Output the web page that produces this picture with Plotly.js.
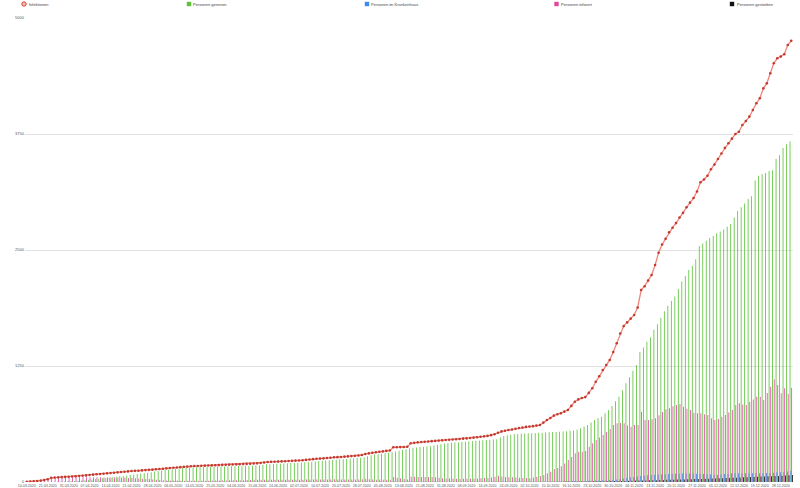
<!DOCTYPE html>
<html>
<head>
<meta charset="utf-8">
<script src="https://cdn.plot.ly/plotly-3.0.1.min.js"></script>
<style>html,body{margin:0;padding:0;background:#fff;}#chart{width:800px;height:488px;}</style>
</head>
<body>
<div id="chart"></div>
<script>
// ---- categories (dates of the reports) ----
const dates = [
"10.03.2020","12.03.2020","14.03.2020","16.03.2020","18.03.2020","20.03.2020",
"21.03.2020","23.03.2020","24.03.2020","26.03.2020","27.03.2020","30.03.2020",
"31.03.2020","01.04.2020","02.04.2020","03.04.2020","05.04.2020","06.04.2020",
"07.04.2020","08.04.2020","09.04.2020","10.04.2020","12.04.2020","13.04.2020",
"14.04.2020","15.04.2020","16.04.2020","17.04.2020","19.04.2020","20.04.2020",
"21.04.2020","22.04.2020","23.04.2020","24.04.2020","26.04.2020","27.04.2020",
"28.04.2020","29.04.2020","30.04.2020","02.05.2020","04.05.2020","05.05.2020",
"06.05.2020","07.05.2020","08.05.2020","11.05.2020","12.05.2020","13.05.2020",
"14.05.2020","15.05.2020","18.05.2020","19.05.2020","20.05.2020","22.05.2020",
"25.05.2020","26.05.2020","27.05.2020","28.05.2020","29.05.2020","02.06.2020",
"04.06.2020","05.06.2020","08.06.2020","09.06.2020","10.06.2020","12.06.2020",
"15.06.2020","16.06.2020","17.06.2020","18.06.2020","19.06.2020","22.06.2020",
"24.06.2020","25.06.2020","26.06.2020","29.06.2020","30.06.2020","01.07.2020",
"02.07.2020","03.07.2020","06.07.2020","07.07.2020","08.07.2020","09.07.2020",
"10.07.2020","13.07.2020","14.07.2020","15.07.2020","16.07.2020","17.07.2020",
"20.07.2020","21.07.2020","22.07.2020","23.07.2020","24.07.2020","27.07.2020",
"28.07.2020","29.07.2020","30.07.2020","31.07.2020","03.08.2020","04.08.2020",
"05.08.2020","06.08.2020","07.08.2020","10.08.2020","11.08.2020","12.08.2020",
"13.08.2020","14.08.2020","17.08.2020","18.08.2020","19.08.2020","20.08.2020",
"21.08.2020","24.08.2020","25.08.2020","26.08.2020","27.08.2020","28.08.2020",
"31.08.2020","01.09.2020","02.09.2020","03.09.2020","04.09.2020","07.09.2020",
"08.09.2020","09.09.2020","10.09.2020","11.09.2020","14.09.2020","15.09.2020",
"16.09.2020","17.09.2020","18.09.2020","21.09.2020","22.09.2020","23.09.2020",
"24.09.2020","25.09.2020","28.09.2020","29.09.2020","30.09.2020","01.10.2020",
"02.10.2020","05.10.2020","06.10.2020","07.10.2020","08.10.2020","09.10.2020",
"10.10.2020","11.10.2020","12.10.2020","13.10.2020","14.10.2020","15.10.2020",
"16.10.2020","17.10.2020","19.10.2020","20.10.2020","21.10.2020","22.10.2020",
"23.10.2020","24.10.2020","26.10.2020","27.10.2020","28.10.2020","29.10.2020",
"30.10.2020","31.10.2020","02.11.2020","03.11.2020","04.11.2020","05.11.2020",
"06.11.2020","07.11.2020","09.11.2020","10.11.2020","11.11.2020","12.11.2020",
"13.11.2020","14.11.2020","16.11.2020","17.11.2020","18.11.2020","19.11.2020",
"20.11.2020","21.11.2020","23.11.2020","24.11.2020","25.11.2020","26.11.2020",
"27.11.2020","28.11.2020","30.11.2020","01.12.2020","02.12.2020","03.12.2020",
"05.12.2020","07.12.2020","08.12.2020","09.12.2020","10.12.2020","11.12.2020",
"12.12.2020","14.12.2020","15.12.2020","16.12.2020","17.12.2020","18.12.2020",
"19.12.2020","21.12.2020","22.12.2020","23.12.2020","24.12.2020","26.12.2020",
"28.12.2020","29.12.2020","30.12.2020","31.12.2020"
];

// ---- tick labels shown on the x axis ----
const tickDates = ["10.03.2020","21.03.2020","31.03.2020","07.04.2020","14.04.2020","21.04.2020",
"28.04.2020","06.05.2020","14.05.2020","25.05.2020","04.06.2020","15.06.2020","24.06.2020",
"02.07.2020","10.07.2020","20.07.2020","28.07.2020","05.08.2020","13.08.2020","21.08.2020",
"31.08.2020","08.09.2020","16.09.2020","24.09.2020","02.10.2020","10.10.2020","16.10.2020",
"23.10.2020","30.10.2020","06.11.2020","13.11.2020","20.11.2020","27.11.2020","05.12.2020",
"12.12.2020","19.12.2020","28.12.2020"];

const yTicks = [0, 1250, 2500, 3750, 5000];

// ---- series ----
const infektionen = [
3,4,8,11,15,22,30,46,48,50,
53,55,57,59,61,64,68,71,75,79,
83,86,89,93,97,100,104,108,111,114,
118,120,122,125,128,131,133,137,140,143,
147,151,154,157,160,163,166,169,172,173,
175,176,177,179,180,182,184,185,187,188,
190,192,193,195,197,199,201,205,210,215,
217,219,220,222,224,226,228,230,232,235,
238,242,246,250,252,255,258,262,266,268,
270,273,276,279,282,286,291,302,308,314,
320,326,330,335,340,374,375,376,377,380,
417,422,427,431,434,437,440,443,446,449,
452,455,458,461,464,467,470,474,478,482,
487,492,497,505,515,530,545,553,560,566,
574,582,588,594,598,602,608,614,640,668,
690,715,730,740,758,776,820,865,890,905,
915,960,1010,1080,1140,1207,1260,1315,1400,1495,
1600,1680,1720,1760,1800,1880,2069,2110,2170,2231,
2338,2470,2560,2620,2690,2740,2790,2850,2900,2960,
3010,3060,3130,3230,3260,3300,3370,3420,3480,3540,
3600,3650,3700,3750,3775,3847,3890,3937,4009,4081,
4135,4242,4296,4404,4512,4566,4584,4609,4709,4755
];

const genesen = [
0,0,0,0,0,0,0,0,0,0,
2,4,6,8,10,13,16,20,24,28,
32,36,40,44,48,52,56,61,66,70,
75,80,85,90,95,100,105,112,118,124,
130,134,138,142,146,150,153,156,158,160,
161,162,163,164,165,166,167,168,169,170,
171,172,173,174,175,176,177,180,186,190,
192,194,196,198,200,202,204,206,208,210,
212,215,218,222,226,229,232,235,237,240,
243,246,249,252,255,258,262,268,278,288,
295,300,305,310,315,320,328,336,345,352,
360,366,372,377,380,382,385,392,400,408,
414,418,422,426,429,432,435,438,441,444,
447,450,453,456,459,462,480,495,505,510,
514,517,520,522,524,526,528,530,532,534,
536,538,540,542,545,548,551,556,565,580,
597,614,640,668,688,704,740,776,820,870,
919,990,1063,1130,1200,1261,1400,1450,1510,1560,
1640,1700,1770,1840,1900,1950,2000,2080,2160,2220,
2285,2330,2400,2540,2570,2600,2630,2650,2680,2700,
2720,2750,2780,2850,2920,2960,3000,3050,3080,3250,
3300,3320,3330,3350,3360,3480,3520,3600,3640,3670
];

const krankenhaus = [
0,0,1,1,2,2,3,4,4,5,
5,6,6,6,7,7,7,6,6,6,
5,5,5,4,4,4,3,3,3,3,
2,2,2,2,2,2,2,2,2,2,
2,2,2,2,2,1,1,1,1,1,
1,1,1,1,1,1,1,1,1,1,
1,1,1,1,1,1,1,1,1,1,
1,1,1,1,1,1,1,1,1,1,
1,1,1,1,1,1,1,1,1,1,
1,1,1,1,1,1,1,1,1,1,
1,1,1,1,1,2,2,2,2,2,
2,2,2,2,2,2,2,2,1,1,
1,1,1,1,1,1,1,1,1,1,
1,1,1,1,2,2,2,2,2,2,
2,2,2,2,2,3,3,3,4,4,
5,5,6,6,7,8,9,10,10,11,
12,13,14,15,16,18,20,22,25,28,
30,38,45,50,55,60,65,68,72,75,
78,80,83,84,86,88,89,90,92,93,
92,91,90,88,86,83,80,78,75,80,
85,90,93,93,93,94,93,93,94,93,
95,95,96,97,100,104,106,108,112,122
];

const infiziert = [
3,4,8,11,15,22,30,46,48,50,
51,51,51,51,51,51,52,51,51,51,
51,50,49,49,49,48,48,47,45,44,
43,40,37,35,33,31,28,25,22,19,
17,17,16,15,14,13,13,13,14,13,
14,14,14,15,15,16,17,17,18,18,
19,20,20,21,22,23,24,25,24,25,
25,25,24,24,24,24,24,24,24,25,
26,27,28,28,26,26,26,27,29,28,
27,27,27,27,27,28,29,34,30,26,
25,26,25,25,25,54,47,40,32,28,
57,56,55,54,54,55,55,51,46,41,
38,37,36,35,35,35,35,36,37,38,
40,42,44,49,56,68,60,55,52,50,
48,46,44,42,40,48,57,66,75,93,
111,140,150,170,200,237,270,309,325,327,
335,380,417,452,480,506,540,570,614,632,
635,632,610,596,614,614,758,668,668,675,
686,720,755,783,794,815,830,840,812,790,
776,745,740,740,730,722,686,668,680,704,
722,750,776,830,848,835,830,865,890,919,
919,884,960,1027,1107,1045,956,1010,950,1016
];

const gestorben = [
0,0,0,0,0,0,0,0,0,0,
0,0,0,0,0,1,1,1,1,1,
1,1,1,1,1,1,1,1,1,1,
1,1,1,1,1,1,1,1,1,1,
2,2,2,2,2,2,2,2,2,2,
2,2,2,2,2,2,2,2,2,2,
2,2,2,2,2,2,2,2,2,2,
2,2,2,2,2,2,2,2,2,2,
2,2,2,2,2,2,2,2,2,2,
2,2,2,2,2,2,2,2,2,2,
2,2,2,2,2,2,2,2,2,2,
2,2,2,2,2,2,2,2,2,2,
2,2,2,2,2,2,2,2,2,2,
2,2,2,2,2,2,2,2,2,2,
2,2,2,2,2,3,3,3,3,3,
4,4,4,4,5,5,5,5,6,6,
6,7,7,8,8,8,9,10,11,11,
12,12,13,14,15,15,16,17,18,19,
20,21,22,23,24,25,26,27,28,29,
30,31,32,33,35,36,37,38,40,41,
42,44,45,47,48,50,51,53,55,56,
58,60,61,63,65,66,68,70,72,75
];

const seriesNames = ["Infektionen","Personen genesen","Personen im Krankenhaus","Personen infiziert","Personen gestorben"];
const seriesColors = ["#d9453a","#5cc23a","#3d8ee8","#e0489f","#111111"];

// ---- styling / layout constants ----
const FONT = "Liberation Sans, Arial, sans-serif";
const M = {l: 25, r: 7, t: 18, b: 6};
const W = 800, H = 488;
const pw = W - M.l - M.r, ph = H - M.t - M.b;
const px2paperX = px => (px - M.l) / pw;
const px2paperY = py => (H - M.b - py) / ph;

const legendMarkerX = [24, 189, 367, 556.5, 732];
const legendTextX = [27.5, 192, 370, 560, 735.5];
const legendY = 4;

function bar(name, y, color) {
  return {type: 'bar', name: name, x: dates, y: y,
    marker: {color: color, line: {width: 0}}, hoverinfo: 'x+y+name'};
}

const traces = [
  bar(seriesNames[1], genesen, seriesColors[1]),
  bar(seriesNames[2], krankenhaus, seriesColors[2]),
  bar(seriesNames[3], infiziert, seriesColors[3]),
  bar(seriesNames[4], gestorben, seriesColors[4]),
  {type: 'scatter', mode: 'lines+markers', name: seriesNames[0], x: dates, y: infektionen,
   line: {color: 'rgba(238,120,108,0.9)', width: 1.3},
   marker: {color: '#c23a2f', size: 2.6, line: {width: 0}}}
];

const annotations = seriesNames.map((n, k) => ({
  text: n, xref: 'paper', yref: 'paper',
  x: px2paperX(legendTextX[k]), y: px2paperY(legendY),
  xanchor: 'left', yanchor: 'middle', showarrow: false, borderpad: 0,
  font: {family: FONT, size: 4, color: '#444'}
}));

const shapes = seriesNames.map((n, k) => {
  const s = {xref: 'paper', yref: 'paper', xsizemode: 'pixel', ysizemode: 'pixel',
    xanchor: px2paperX(legendMarkerX[k]), yanchor: px2paperY(legendY),
    x0: -2.2, x1: 2.2, y0: -2.2, y1: 2.2};
  if (k === 0) {
    s.type = 'circle'; s.fillcolor = '#f4b8b2'; s.line = {color: seriesColors[0], width: 1};
  } else {
    s.type = 'rect'; s.fillcolor = seriesColors[k]; s.line = {width: 0};
  }
  return s;
});

const layout = {
  width: W, height: H,
  margin: M,
  paper_bgcolor: '#fff', plot_bgcolor: '#fff',
  font: {family: FONT, size: 4, color: '#555'},
  showlegend: false,
  barmode: 'group', bargap: 0.06, bargroupgap: 0,
  xaxis: {type: 'category', range: [-0.5, dates.length - 0.5], autorange: false,
    tickmode: 'array', tickvals: tickDates, ticktext: tickDates,
    tickangle: 0, tickfont: {family: FONT, size: 3.6, color: '#555'},
    showgrid: false, zeroline: false, showline: false, ticks: '', automargin: false},
  yaxis: {range: [0, 5000], autorange: false, tickmode: 'array', tickvals: yTicks, ticktext: yTicks.map(String),
    tickfont: {family: FONT, size: 4, color: '#555'},
    showgrid: true, gridcolor: '#e2e2e2', gridwidth: 1, zeroline: false, showline: false,
    ticks: '', automargin: false},
  annotations: annotations,
  shapes: shapes
};

Plotly.newPlot('chart', traces, layout, {staticPlot: true, displayModeBar: false});
</script>
</body>
</html>
